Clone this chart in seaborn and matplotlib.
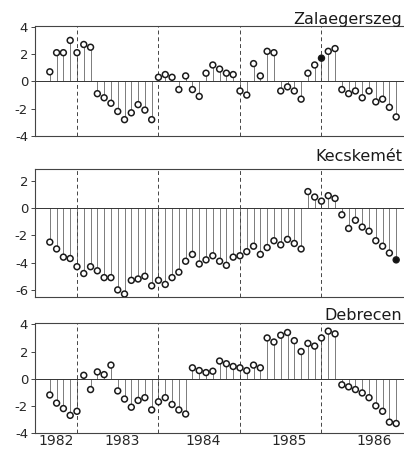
import numpy as np
import pandas as pd
import seaborn as sns
import matplotlib
matplotlib.use("Agg")
import matplotlib.pyplot as plt

# monthly departures, Sep 1982 - Dec 1986
months = pd.date_range("1982-09-01", "1986-12-01", freq="MS")

zala = ([0.7, 2.1, 2.1, 3.0] +
        [2.1, 2.7, 2.5, -0.9, -1.2, -1.6, -2.2, -2.8, -2.3, -1.7, -2.1, -2.8] +
        [0.3, 0.5, 0.3, -0.6, 0.4, -0.6, -1.1, 0.6, 1.2, 0.9, 0.6, 0.5] +
        [-0.7, -1.0, 1.3, 0.4, 2.2, 2.1, -0.7, -0.4, -0.7, -1.3, 0.6, 1.2] +
        [1.7, 2.2, 2.4, -0.6, -0.9, -0.7, -1.2, -0.7, -1.5, -1.3, -1.9, -2.6])

kecs = ([-2.5, -3.0, -3.6, -3.7] +
        [-4.3, -4.8, -4.3, -4.6, -5.1, -5.1, -6.0, -6.3, -5.3, -5.2, -5.0, -5.7] +
        [-5.3, -5.6, -5.1, -4.7, -3.9, -3.4, -4.1, -3.8, -3.5, -3.9, -4.2, -3.6] +
        [-3.5, -3.2, -2.8, -3.4, -2.9, -2.4, -2.7, -2.3, -2.6, -3.0, 1.2, 0.8] +
        [0.5, 0.9, 0.7, -0.5, -1.5, -0.9, -1.4, -1.7, -2.4, -2.8, -3.3, -3.8])

debr = ([-1.2, -1.8, -2.2, -2.7] +
        [-2.4, 0.25, -0.8, 0.5, 0.3, 1.0, -0.9, -1.5, -2.1, -1.6, -1.4, -2.3] +
        [-1.7, -1.4, -1.9, -2.3, -2.6, 0.8, 0.6, 0.45, 0.55, 1.3, 1.1, 0.9] +
        [0.8, 0.6, 1.0, 0.8, 3.0, 2.7, 3.2, 3.4, 2.8, 2.0, 2.6, 2.4] +
        [3.0, 3.5, 3.3, -0.45, -0.6, -0.8, -1.05, -1.4, -2.0, -2.4, -3.2, -3.3])

# filled markers
zala_filled = ["1986-01-01"]
kecs_filled = ["1986-12-01"]
debr_filled = []

years = [1982, 1983, 1984, 1985, 1986]
year_label_pos = [1982.75, 1983.55, 1984.55, 1985.6, 1986.65]

df = pd.DataFrame({"month": months, "Zalaegerszeg": zala,
                   "Kecskemét": kecs, "Debrecen": debr})
df["t"] = df["month"].dt.year + (df["month"].dt.month - 1) / 12

sns.set_style("ticks")
plt.rcParams["font.family"] = ["DejaVu Sans"]
plt.rcParams["text.color"] = "#1a1a1a"

fig = plt.figure(figsize=(4.04, 4.49), dpi=100)

panels = [
    ("Zalaegerszeg", zala_filled, (-4, 4.05), [4, 2, 0, -2, -4], 0.697, 0.245, 24),
    ("Kecskemét", kecs_filled, (-6.52, 2.85), [2, 0, -2, -4, -6], 0.3385, 0.285, 161),
    ("Debrecen", debr_filled, (-4, 4.1), [4, 2, 0, -2, -4], 0.0356, 0.245, 320),
]

for i, (name, filled, ylim, yt, bottom, height, title_y) in enumerate(panels):
    ax = fig.add_axes([35 / 404, bottom, 0.931, height])
    d = df[["t", "month", name]].copy()
    d["filled"] = d["month"].isin(pd.to_datetime(filled))

    ax.vlines(d["t"], 0, d[name], color="#666666", lw=0.6, zorder=1)
    ax.axhline(0, color="#333333", lw=0.7, zorder=1)
    for y in [1983, 1984, 1985, 1986]:
        ax.axvline(y, color="#444444", lw=0.7, ls=(0, (4, 3)), zorder=1)

    sns.scatterplot(data=d, x="t", y=name, hue="filled",
                    palette={False: "white", True: "#111111"},
                    edgecolor="#1a1a1a", linewidth=1.1, s=18,
                    legend=False, ax=ax, zorder=3)

    ax.set_xlim(1982.485, 1987.1)
    ax.set_ylim(*ylim)
    ax.set_yticks(yt)
    ax.set_yticklabels([str(v) for v in yt], fontsize=9.5)
    ax.tick_params(axis="y", length=3, width=0.7, pad=2, color="#444444")
    ax.set_xlabel("")
    ax.set_ylabel("")
    if i == 2:
        ax.set_xticks(year_label_pos)
        ax.set_xticklabels([str(y) for y in years], fontsize=10)
        ax.tick_params(axis="x", length=0, pad=1)
    else:
        ax.set_xticks([])
    for sp in ax.spines.values():
        sp.set_color("#444444")
        sp.set_linewidth(0.8)

    fig.text(402 / 404, 1 - title_y / 449, name, ha="right", va="baseline",
             fontsize=11.5)

fig.savefig("out.png", dpi=100)
